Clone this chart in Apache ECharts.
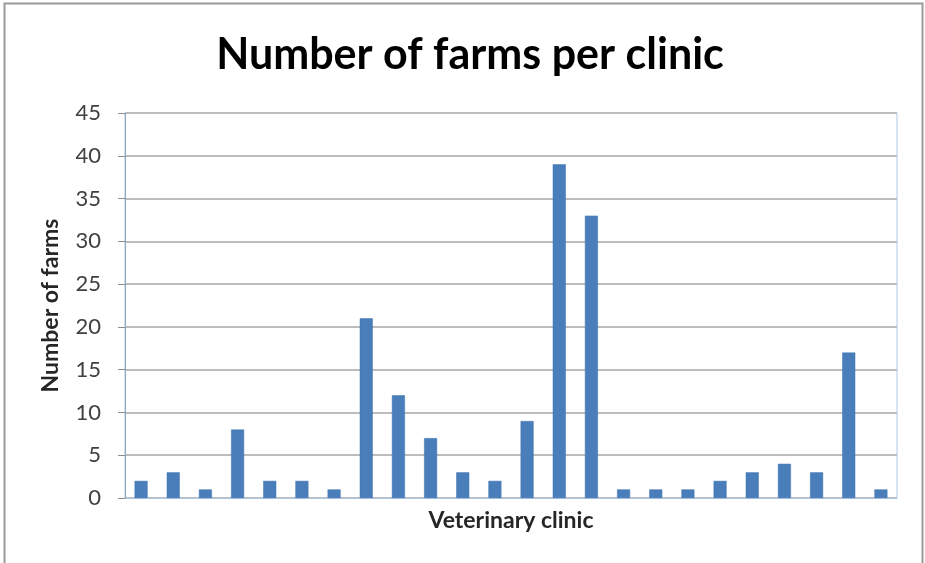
<!DOCTYPE html>
<html>
<head>
<meta charset="utf-8">
<script src="https://cdn.jsdelivr.net/npm/echarts@6/dist/echarts.min.js"></script>
<style>
html,body{margin:0;padding:0;background:#fff;}
#chart{width:925px;height:563px;}
</style>
</head>
<body>
<div id="chart"></div>
<script>
const clinics = ['1','2','3','4','5','6','7','8','9','10','11','12','13','14','15','16','17','18','19','20','21','22','23','24'];
const farms = [2,3,1,8,2,2,1,21,12,7,3,2,9,39,33,1,1,1,2,3,4,3,17,1];
const yTicks = [0,5,10,15,20,25,30,35,40,45];

const chart = echarts.init(document.getElementById('chart'), null, {renderer:'canvas'});
chart.setOption({
  animation:false,
  backgroundColor:'#fff',
  title:{
    text:'Number of farms per clinic',
    left:465, top:29, textAlign:'center',
    textStyle:{fontFamily:'Lato', fontWeight:'bold', fontSize:43, color:'#000'}
  },
  graphic:[{
    type:'rect', shape:{x:4.5,y:3.5,width:918,height:600},
    style:{fill:'none', stroke:'#9a9a9a', lineWidth:2}, silent:true
  }],
  grid:{left:125, right:28, top:113, bottom:65, show:true, borderColor:'#aac6ea', borderWidth:1},
  xAxis:{
    type:'category', data:clinics,
    name:'Veterinary clinic', nameLocation:'middle', nameGap:11,
    nameTextStyle:{fontFamily:'Lato', fontWeight:'bold', fontSize:23, color:'#262626'},
    axisLine:{show:true, lineStyle:{color:'#aac6ea', width:1}},
    axisTick:{show:false}, axisLabel:{show:false}
  },
  yAxis:{
    type:'value', min:0, max:45, interval:5,
    name:'Number of farms', nameLocation:'middle', nameGap:63,
    nameTextStyle:{fontFamily:'Lato', fontWeight:'bold', fontSize:23, color:'#262626'},
    axisLine:{show:true, lineStyle:{color:'#8fa3bf', width:1}},
    axisTick:{show:true, length:7, lineStyle:{color:'#8c8c8c'}},
    axisLabel:{fontFamily:'Lato', fontSize:22, color:'#404040', margin:24,
      formatter:function(v){return yTicks.indexOf(v)>=0 ? String(v) : '';}},
    splitLine:{show:true, lineStyle:{color:'#bdbdbd', width:2}}
  },
  series:[{
    type:'bar', data:farms, barWidth:13,
    itemStyle:{color:'#4a7ebb', borderColor:'#3f73b0', borderWidth:0.5}
  }]
});
</script>
</body>
</html>
